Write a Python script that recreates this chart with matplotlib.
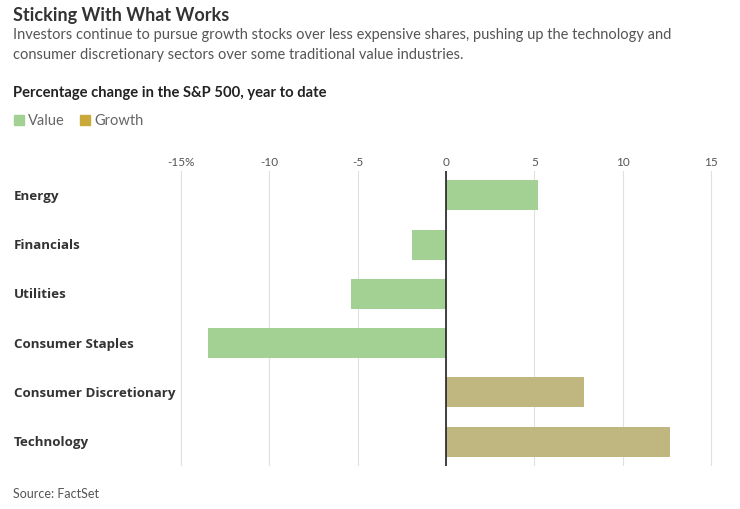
import matplotlib.pyplot as plt
from matplotlib.patches import Rectangle
import matplotlib.transforms as mtransforms

# data
sectors = ['Energy', 'Financials', 'Utilities', 'Consumer Staples',
           'Consumer Discretionary', 'Technology']
groups = ['Value', 'Value', 'Value', 'Value', 'Growth', 'Growth']
pct_change = [5.2, -1.9, -5.4, -13.5, 7.8, 12.7]

tick_vals = [-15, -10, -5, 0, 5, 10, 15]
tick_labels = ['-15%', '-10', '-5', '0', '5', '10', '15']

colors = {'Value': '#a3d193', 'Growth': '#bfb77f'}
legend_colors = {'Value': '#a3d193', 'Growth': '#c8a93a'}

plt.rcParams['font.family'] = ['Lato', 'DejaVu Sans']

fig = plt.figure(figsize=(7.4, 5.1), dpi=100)
ax = fig.add_axes([0.240, 0.084, 0.7255, 0.579])

ypos = list(range(len(sectors)))
ax.barh(ypos, pct_change, height=0.61,
        color=[colors[g] for g in groups], zorder=2)
ax.axvline(0, color='#222222', lw=1.2, zorder=3)

ax.set_xlim(-15.2, 15.2)
ax.set_ylim(5.5, -0.5)
ax.set_xticks(tick_vals)
ax.set_xticklabels(tick_labels)
ax.xaxis.tick_top()
ax.tick_params(axis='x', length=0, pad=3, labelsize=8.5, labelcolor='#555555')
ax.set_yticks([])
ax.grid(axis='x', color='#e0e0e0', lw=0.8, zorder=0)
for s in ax.spines.values():
    s.set_visible(False)

# category labels, left aligned at the figure edge
trans = mtransforms.blended_transform_factory(fig.transFigure, ax.transData)
for y, name in zip(ypos, sectors):
    ax.text(14 / 740, y, name, transform=trans, ha='left', va='center',
            fontsize=9.6, fontweight='bold', color='#333333',
            family=['Open Sans', 'DejaVu Sans'])

# header texts
fig.text(13 / 740, 1 - 15 / 510, 'Sticking With What Works', fontsize=13,
         fontweight='bold', color='#333333', va='center')
fig.text(13 / 740, 1 - 35 / 510,
         'Investors continue to pursue growth stocks over less expensive shares, '
         'pushing up the technology and', fontsize=10.5, color='#555555', va='center')
fig.text(13 / 740, 1 - 55 / 510,
         'consumer discretionary sectors over some traditional value industries.',
         fontsize=10.5, color='#555555', va='center')
fig.text(13 / 740, 1 - 93 / 510, 'Percentage change in the S&P 500, year to date',
         fontsize=10.6, fontweight='bold', color='#222222', va='center')

# legend
lx = 14
for name in ['Value', 'Growth']:
    fig.patches.append(Rectangle((lx / 740, 1 - 126 / 510), 10 / 740, 10 / 510,
                                 transform=fig.transFigure,
                                 color=legend_colors[name]))
    fig.text((lx + 14) / 740, 1 - 121 / 510, name, fontsize=10.5,
             color='#666666', va='center')
    lx += 66

fig.text(13 / 740, 1 - 494 / 510, 'Source: FactSet', fontsize=9,
         color='#555555', va='center')

fig.savefig('out.png', dpi=100)
plt.close(fig)
